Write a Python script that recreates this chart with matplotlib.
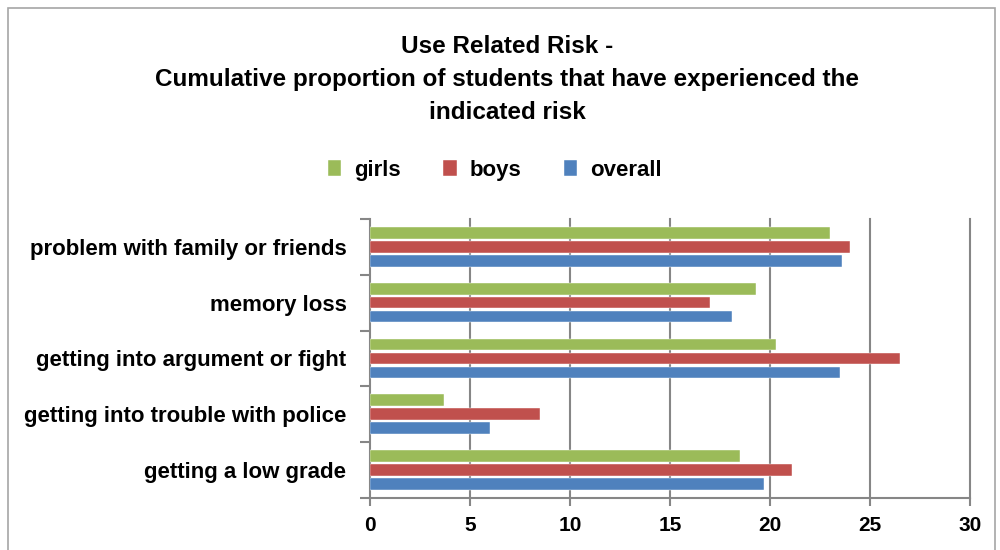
import matplotlib
matplotlib.use("Agg")
import matplotlib.pyplot as plt
import numpy as np
from matplotlib.patches import Rectangle

# datos (de abajo hacia arriba)
categories = ["getting a low grade", "getting into trouble with police",
              "getting into argument or fight", "memory loss",
              "problem with family or friends"]
girls = [18.5, 3.7, 20.3, 19.3, 23.0]
boys = [21.1, 8.5, 26.5, 17.0, 24.0]
overall = [19.7, 6.0, 23.5, 18.1, 23.6]
series_names = ["girls", "boys", "overall"]
xticks = [0, 5, 10, 15, 20, 25, 30]

plt.rcParams['font.family'] = ['Liberation Sans', 'DejaVu Sans']

fig = plt.figure(figsize=(10, 5.5), dpi=100)
ax = fig.add_axes([0.37, 0.0945, 0.60, 0.5075])

# marco exterior del grafico
fig.patches.append(Rectangle((0.008, -0.05), 0.987, 1.035, transform=fig.transFigure,
                             fill=False, edgecolor="#a6a6a6", linewidth=1.2))

y = np.arange(len(categories))
step = 0.25
h = 0.21
colors = {"girls": "#9bbb59", "boys": "#c0504d", "overall": "#4f81bd"}
data = {"girls": girls, "boys": boys, "overall": overall}
offsets = {"girls": step, "boys": 0, "overall": -step}

bars = []
for name in series_names:
    b = ax.barh(y + offsets[name], data[name], height=h, color=colors[name],
                edgecolor="white", linewidth=0.3, label=name, zorder=3)
    bars.append(b)

ax.set_xlim(0, 30)
ax.set_ylim(-0.5, len(categories) - 0.5)
ax.set_xticks(xticks)
ax.set_xticklabels([str(t) for t in xticks], fontsize=15, fontweight="bold")
ax.set_yticks(y)
ax.set_yticklabels(categories, fontsize=16, fontweight="bold")
ax.set_yticks(np.arange(-0.5, len(categories)), minor=True)
ax.tick_params(axis="y", which="major", length=0, pad=17)
ax.tick_params(axis="y", which="minor", length=7, color="#868686", width=1.5)
ax.tick_params(axis="x", length=6, color="#868686", width=1.5, pad=7)

for t in xticks[1:]:
    ax.axvline(t, color="#868686", linewidth=1.5, zorder=0, clip_on=False)
for s in ["top", "right"]:
    ax.spines[s].set_visible(False)
for s in ["left", "bottom"]:
    ax.spines[s].set_color("#868686")
    ax.spines[s].set_linewidth(1.5)

fig.text(0.507, 0.855, "Use Related Risk -\nCumulative proportion of students that have experienced the\nindicated risk",
         ha="center", va="center", fontsize=17.5, fontweight="bold", linespacing=1.55)

fig.legend(handles=bars, labels=series_names, loc="center", bbox_to_anchor=(0.495, 0.69),
           ncol=3, frameon=False, prop={"weight": "bold", "size": 16},
           handlelength=0.6, handleheight=0.7, columnspacing=1.9, handletextpad=0.6)

fig.savefig("out.png", dpi=100)
